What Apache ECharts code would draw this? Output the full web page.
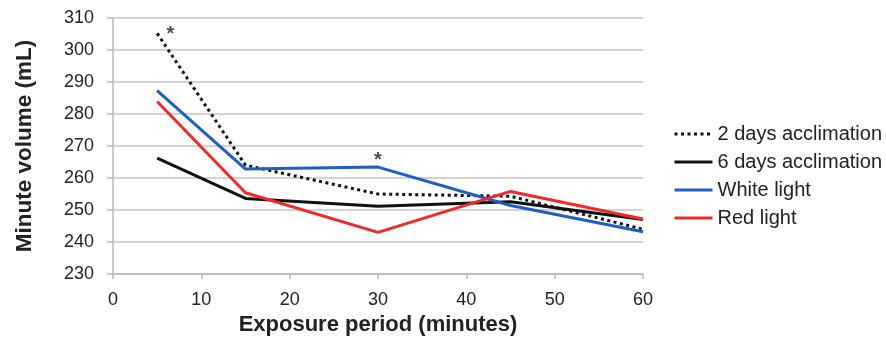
<!DOCTYPE html>
<html><head><meta charset="utf-8">
<script src="https://cdn.jsdelivr.net/npm/echarts@6/dist/echarts.min.js"></script>
<style>html,body{margin:0;padding:0;background:#fff}#c{width:886px;height:341px}</style>
</head><body><div id="c"></div>
<script>
const minutes = [5, 15, 30, 45, 60];
const twoDays = [305.2, 264, 255, 254.3, 244];
const sixDays = [266.2, 253.6, 251.2, 252.6, 247];
const whiteLight = [287.3, 262.8, 263.4, 251.4, 243.2];
const redLight = [283.9, 255.4, 243, 255.8, 247.2];
const asterisks = [[6.5, 306.5], [30, 267]];
const seriesNames = ['2 days acclimation', '6 days acclimation', 'White light', 'Red light'];

const font = '"Liberation Sans", Arial, sans-serif';
const pair = arr => minutes.map((m, i) => [m, arr[i]]);
const mk = (name, data, color, type) => ({
  name, type: 'line', data: pair(data), symbol: 'none', showSymbol: false,
  lineStyle: { color, width: 3, type }, itemStyle: { color }, z: 3, animation: false
});
const chart = echarts.init(document.getElementById('c'));
chart.setOption({
  animation: false,
  grid: { left: 113, right: 243, top: 18, bottom: 67, containLabel: false },
  legend: {
    orient: 'vertical', left: 668, top: 119, itemWidth: 38, itemHeight: 14, itemGap: 8,
    itemStyle: { opacity: 0 },
    lineStyle: { width: 3 },
    textStyle: { fontFamily: font, fontSize: 20, color: '#222', lineHeight: 20 },
    data: seriesNames
  },
  xAxis: {
    type: 'value', min: 0, max: 60, interval: 10,
    name: 'Exposure period (minutes)', nameLocation: 'middle', nameGap: 40,
    nameTextStyle: { fontFamily: font, fontSize: 22, fontWeight: 'bold', color: '#222' },
    axisLine: { lineStyle: { color: '#b8b8b8', width: 1.5 } },
    axisTick: { show: true, length: 5, lineStyle: { color: '#b8b8b8', width: 1.5 } },
    axisLabel: { fontFamily: font, fontSize: 18, color: '#222', margin: 17 },
    splitLine: { show: false }
  },
  yAxis: {
    type: 'value', min: 230, max: 310, interval: 10,
    name: 'Minute volume (mL)', nameLocation: 'middle', nameGap: 77,
    nameTextStyle: { fontFamily: font, fontSize: 22.5, fontWeight: 'bold', color: '#222' },
    axisLine: { show: true, lineStyle: { color: '#b8b8b8', width: 1.5 } },
    axisTick: { show: true, length: 6, lineStyle: { color: '#b8b8b8', width: 1.5 } },
    axisLabel: { fontFamily: font, fontSize: 18, color: '#222', margin: 19 },
    splitLine: { show: true, lineStyle: { color: '#c4c4c4', width: 1.5 } }
  },
  series: [
    mk(seriesNames[0], twoDays, '#111', [3, 3.5]),
    mk(seriesNames[1], sixDays, '#111', 'solid'),
    mk(seriesNames[2], whiteLight, '#1f5fc4', 'solid'),
    mk(seriesNames[3], redLight, '#ee2a2a', 'solid'),
    {
      name: 'sig', type: 'scatter', data: asterisks, symbolSize: 1,
      itemStyle: { color: 'rgba(0,0,0,0)' }, z: 5,
      label: { show: true, position: 'inside', formatter: '*', offset: [0, 5],
        fontFamily: font, fontSize: 20, fontWeight: 'bold', color: '#222' }
    }
  ]
});
</script></body></html>
